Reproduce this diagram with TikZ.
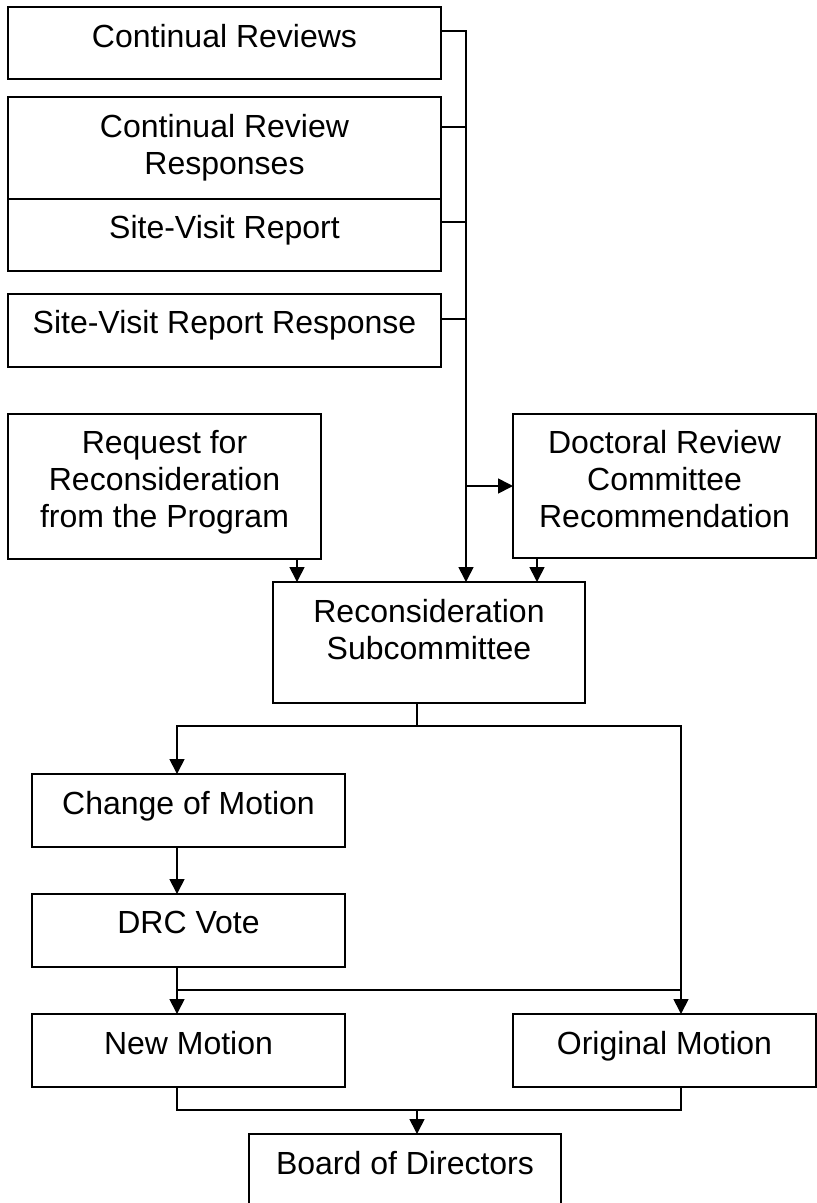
\documentclass[tikz,border=0pt]{standalone}
\usepackage{fontspec}
\setmainfont{Liberation Sans}
\usetikzlibrary{arrows.meta,calc}
\begin{document}
\begin{tikzpicture}[x=1pt,y=-1pt,
  box/.style={draw, line width=1.7pt, rectangle, inner sep=0pt, outer sep=0pt, anchor=north west},
  txt/.style={anchor=north, inner sep=0pt, align=center, font=\fontsize{32}{37}\selectfont},
  conn/.style={line width=1.7pt},
  arr/.style={conn, -{Triangle[width=15pt,length=15pt]}}]
\useasboundingbox (0,0) rectangle (817,1203);
\clip (0,0) rectangle (817,1203);
% boxes
\node[box, minimum width=433pt, minimum height=72pt]  (cr)    at (8,7) {};
\node[box, minimum width=433pt, minimum height=102pt] (crr)   at (8,97) {};
\node[box, minimum width=433pt, minimum height=72pt]  (svr)   at (8,199) {};
\node[box, minimum width=433pt, minimum height=73pt]  (svrr)  at (8,294) {};
\node[box, minimum width=313pt, minimum height=145pt] (req)   at (8,414) {};
\node[box, minimum width=303pt, minimum height=144pt] (drc)   at (513,414) {};
\node[box, minimum width=312pt, minimum height=121pt] (rs)    at (273,582) {};
\node[box, minimum width=313pt, minimum height=73pt]  (chg)   at (32,774) {};
\node[box, minimum width=313pt, minimum height=73pt]  (vote)  at (32,894) {};
\node[box, minimum width=313pt, minimum height=73pt]  (newm)  at (32,1014) {};
\node[box, minimum width=303pt, minimum height=73pt]  (orig)  at (513,1014) {};
\node[box, minimum width=312pt, minimum height=90pt]  (board) at (249,1134) {};
% texts
\node[txt] (tcr)    at ($(cr.north)+(0,17)$)    {Continual Reviews};
\node[txt] (tcrr)   at ($(crr.north)+(0,17)$)   {Continual Review\\Responses};
\node[txt] (tsvr)   at ($(svr.north)+(0,16)$)   {Site-Visit Report};
\node[txt] (tsvrr)  at ($(svrr.north)+(0,16)$)  {Site-Visit Report Response};
\node[txt] (treq)   at ($(req.north)+(0,16)$)   {Request for\\Reconsideration\\from the Program};
\node[txt] (tdrc)   at ($(drc.north)+(0,16)$)   {Doctoral Review\\Committee\\Recommendation};
\node[txt] (trs)    at ($(rs.north)+(0,17)$)    {Reconsideration\\Subcommittee};
\node[txt] (tchg)   at ($(chg.north)+(0,17)$)   {Change of Motion};
\node[txt] (tvote)  at ($(vote.north)+(0,17)$)  {DRC Vote};
\node[txt] (tnewm)  at ($(newm.north)+(0,17)$)  {New Motion};
\node[txt] (torig)  at ($(orig.north)+(0,17)$)  {Original Motion};
\node[txt] (tboard) at ($(board.north)+(0,17)$) {Board of Directors};
% helper coordinates
\coordinate (bus) at (466,0);
\coordinate (L) at (177,0);
\coordinate (R) at (681,0);
\coordinate (M) at (417,0);
\coordinate (J) at (0,990);
% input bus
\draw[arr] ($(cr.north east)+(0,24)$) -| (rs.north -| bus);
\draw[conn] (crr.north east) ++(0,30) -- ++(25,0);
\draw[conn] (svr.north east) ++(0,23) -- ++(25,0);
\draw[conn] (svrr.north east) ++(0,25) -- ++(25,0);
\draw[arr] (bus |- drc.west) -- (drc.west);
\draw[arr] ($(req.south east)+(-24,0)$) coordinate (q) -- (q |- rs.north);
\draw[arr] ($(drc.south west)+(24,0)$) coordinate (d) -- (d |- rs.north);
% outputs
\draw[conn] (rs.south -| M) -- ++(0,23) coordinate (s);
\draw[arr] (s) -| (chg.north -| L);
\draw[arr] (s) -| (orig.north -| R);
\draw[arr] (chg.south -| L) -- (vote.north -| L);
\draw[arr] (vote.south -| L) -- (newm.north -| L);
\draw[conn] (J -| L) -- (J -| R);
\draw[conn] (newm.south -| L) -- ++(0,23) coordinate (b) -- (b -| R) -- (orig.south -| R);
\draw[arr] (b -| M) -- (board.north -| M);
\end{tikzpicture}
\end{document}
